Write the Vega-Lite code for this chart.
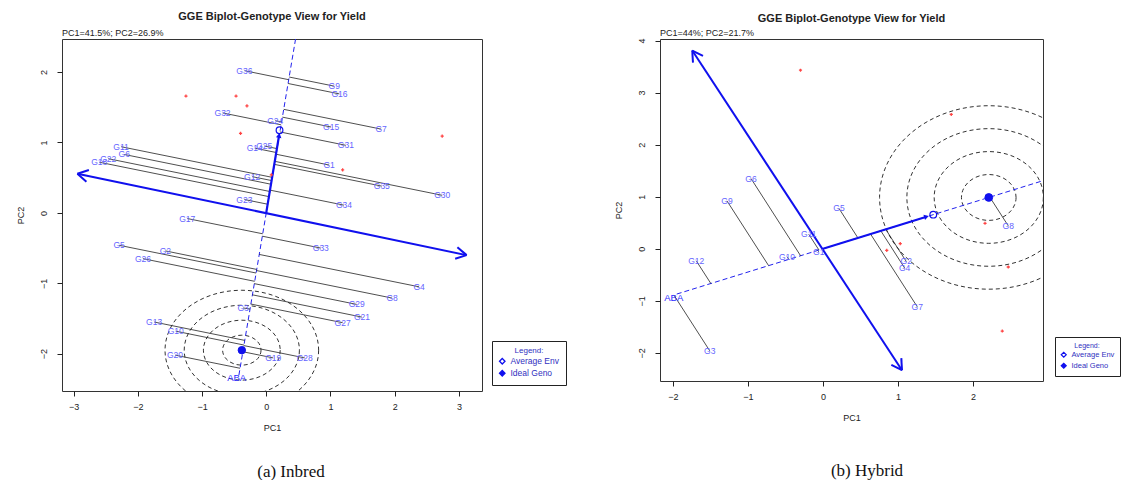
{
  "$schema": "https://vega.github.io/schema/vega-lite/v6.json",
  "background": "white",
  "padding": {"left": 15, "top": 10, "right": 0, "bottom": 0},
  "spacing": 46,
  "resolve": {"scale": {"size": "independent", "fill": "independent"}, "legend": {"size": "independent", "fill": "independent"}},
  "datasets": {
    "aGeno": [
      {"g": "G36", "x": -0.34, "y": 2.02, "px": 0.350, "py": 1.892},
      {"g": "G9", "x": 1.06, "y": 1.80, "px": 0.357, "py": 1.930},
      {"g": "G16", "x": 1.14, "y": 1.69, "px": 0.340, "py": 1.838},
      {"g": "G32", "x": -0.68, "y": 1.42, "px": 0.232, "py": 1.251},
      {"g": "G24", "x": 0.14, "y": 1.31, "px": 0.239, "py": 1.292},
      {"g": "G15", "x": 1.01, "y": 1.22, "px": 0.252, "py": 1.360},
      {"g": "G7", "x": 1.79, "y": 1.19, "px": 0.272, "py": 1.471},
      {"g": "G31", "x": 1.24, "y": 0.96, "px": 0.213, "py": 1.150},
      {"g": "G11", "x": -2.26, "y": 0.94, "px": 0.093, "py": 0.505},
      {"g": "G6", "x": -2.21, "y": 0.83, "px": 0.075, "py": 0.407},
      {"g": "G22", "x": -2.46, "y": 0.77, "px": 0.056, "py": 0.304},
      {"g": "G18", "x": -2.60, "y": 0.72, "px": 0.043, "py": 0.231},
      {"g": "G14", "x": -0.18, "y": 0.92, "px": 0.159, "py": 0.857},
      {"g": "G25", "x": -0.03, "y": 0.95, "px": 0.169, "py": 0.913},
      {"g": "G1", "x": 0.98, "y": 0.68, "px": 0.154, "py": 0.833},
      {"g": "G35", "x": 1.80, "y": 0.38, "px": 0.128, "py": 0.689},
      {"g": "G30", "x": 2.74, "y": 0.25, "px": 0.135, "py": 0.732},
      {"g": "G12", "x": -0.22, "y": 0.515, "px": 0.085, "py": 0.459},
      {"g": "G23", "x": -0.34, "y": 0.19, "px": 0.023, "py": 0.123},
      {"g": "G34", "x": 1.21, "y": 0.11, "px": 0.060, "py": 0.323},
      {"g": "G17", "x": -1.23, "y": -0.08, "px": -0.055, "py": -0.297},
      {"g": "G33", "x": 0.85, "y": -0.50, "px": -0.061, "py": -0.331},
      {"g": "G5", "x": -2.29, "y": -0.46, "px": -0.158, "py": -0.854},
      {"g": "G2", "x": -1.57, "y": -0.54, "px": -0.149, "py": -0.803},
      {"g": "G26", "x": -1.92, "y": -0.65, "px": -0.180, "py": -0.972},
      {"g": "G4", "x": 2.38, "y": -1.05, "px": -0.109, "py": -0.590},
      {"g": "G8", "x": 1.96, "y": -1.21, "px": -0.152, "py": -0.819},
      {"g": "G29", "x": 1.41, "y": -1.30, "px": -0.186, "py": -1.005},
      {"g": "G21", "x": 1.49, "y": -1.48, "px": -0.215, "py": -1.164},
      {"g": "G27", "x": 1.19, "y": -1.56, "px": -0.240, "py": -1.295},
      {"g": "G3", "x": -0.36, "y": -1.35, "px": -0.253, "py": -1.366},
      {"g": "G13", "x": -1.745, "y": -1.55, "px": -0.335, "py": -1.811},
      {"g": "G10", "x": -1.41, "y": -1.68, "px": -0.347, "py": -1.877},
      {"g": "G20", "x": -1.42, "y": -2.02, "px": -0.408, "py": -2.207},
      {"g": "G19", "x": 0.11, "y": -2.06, "px": -0.365, "py": -1.972},
      {"g": "G28", "x": 0.60, "y": -2.06, "px": -0.349, "py": -1.885}
    ],
    "aEnv": [
      {"x": -1.25, "y": 1.66}, {"x": -0.47, "y": 1.66}, {"x": -0.30, "y": 1.52},
      {"x": -0.40, "y": 1.13}, {"x": 2.74, "y": 1.09}, {"x": 1.19, "y": 0.61}, {"x": 0.08, "y": 0.54}
    ],
    "aArrow": [
      {"x": -2.94, "y": 0.557, "x2": 3.12, "y2": -0.60},
      {"x": -2.94, "y": 0.557, "x2": -2.80, "y2": 0.443},
      {"x": -2.94, "y": 0.557, "x2": -2.761, "y2": 0.610},
      {"x": 3.12, "y": -0.60, "x2": 2.977, "y2": -0.487},
      {"x": 3.12, "y": -0.60, "x2": 2.942, "y2": -0.652}
    ],
    "aAtc": [{"x": 0, "y": 0, "x2": 0.2, "y2": 1.1}],
    "aAtcDash": [{"x": 0.457, "y": 2.47, "x2": -0.43, "y2": -2.33}],
    "aHead": [{"x": 0.2, "y": 1.1}],
    "aAE": [{"x": 0.207, "y": 1.173, "kind": "Average Env"}],
    "aIG": [{"x": -0.38, "y": -1.95, "kind": "Ideal Geno"}],
    "aRings": [
      {"x": -0.38, "y": -1.95, "ring": 1}, {"x": -0.38, "y": -1.95, "ring": 2},
      {"x": -0.38, "y": -1.95, "ring": 3}, {"x": -0.38, "y": -1.95, "ring": 4}
    ],
    "aLab": [{"x": -0.46, "y": -2.34, "t": "ABA"}],
    "aPC": [{"x": -3.18, "y": 2.47, "t": "PC1=41.5%; PC2=26.9%"}],
    "bGeno": [
      {"g": "G6", "x": -0.96, "y": 1.35, "px": -0.299, "py": -0.133},
      {"g": "G9", "x": -1.28, "y": 0.92, "px": -0.725, "py": -0.324},
      {"g": "G12", "x": -1.69, "y": -0.23, "px": -1.495, "py": -0.667},
      {"g": "G3", "x": -1.51, "y": -1.96, "px": -1.989, "py": -0.887},
      {"g": "G10", "x": -0.48, "y": -0.15, "px": -0.456, "py": -0.204},
      {"g": "G11", "x": -0.19, "y": 0.28, "px": -0.054, "py": -0.024},
      {"g": "G1", "x": -0.057, "y": -0.058, "px": -0.069, "py": -0.031},
      {"g": "G5", "x": 0.213, "y": 0.775, "px": 0.466, "py": 0.208},
      {"g": "G2", "x": 1.11, "y": -0.244, "px": 0.837, "py": 0.373},
      {"g": "G4", "x": 1.089, "y": -0.372, "px": 0.771, "py": 0.344},
      {"g": "G7", "x": 1.257, "y": -1.115, "px": 0.634, "py": 0.283},
      {"g": "G8", "x": 2.47, "y": 0.44, "px": 2.224, "py": 0.992}
    ],
    "bEnv": [
      {"x": -0.30, "y": 3.43}, {"x": 1.71, "y": 2.58}, {"x": 2.16, "y": 0.49}, {"x": 0.85, "y": -0.03},
      {"x": 1.03, "y": 0.10}, {"x": 2.47, "y": -0.35}, {"x": 2.39, "y": -1.58}
    ],
    "bArrow": [
      {"x": -1.743, "y": 3.808, "x2": 1.053, "y2": -2.333},
      {"x": -1.743, "y": 3.808, "x2": -1.733, "y2": 3.577},
      {"x": -1.743, "y": 3.808, "x2": -1.60, "y2": 3.704},
      {"x": 1.053, "y": -2.333, "x2": 1.044, "y2": -2.10},
      {"x": 1.053, "y": -2.333, "x2": 0.911, "y2": -2.229}
    ],
    "bAtc": [{"x": 0, "y": 0, "x2": 1.38, "y2": 0.615}],
    "bAtcDash": [{"x": -1.95, "y": -0.87, "x2": 2.933, "y2": 1.308}],
    "bHead": [{"x": 1.38, "y": 0.615}],
    "bAE": [{"x": 1.47, "y": 0.656, "kind": "Average Env"}],
    "bIG": [{"x": 2.21, "y": 0.986, "kind": "Ideal Geno"}],
    "bRings": [
      {"x": 2.21, "y": 0.986, "ring": 1}, {"x": 2.21, "y": 0.986, "ring": 2},
      {"x": 2.21, "y": 0.986, "ring": 3}, {"x": 2.21, "y": 0.986, "ring": 4}
    ],
    "bLab": [{"x": -1.99, "y": -0.95, "t": "ABA"}],
    "bPC": [{"x": -2.173, "y": 4.03, "t": "PC1=44%; PC2=21.7%"}]
  },
  "hconcat": [
    {
      "title": {"text": "(a) Inbred", "orient": "bottom", "anchor": "middle", "font": "Liberation Serif", "fontSize": 17, "fontWeight": "normal", "color": "#111", "offset": 31},
      "vconcat": [
        {
          "width": 420,
          "height": 352,
          "title": {"text": "GGE Biplot-Genotype View for Yield", "font": "Liberation Sans", "fontSize": 11, "fontWeight": "bold", "anchor": "middle", "offset": 7, "color": "#222"},
          "encoding": {
            "x": {"field": "x", "type": "quantitative", "scale": {"domain": [-3.18, 3.36], "nice": false, "zero": false}, "axis": {"title": "PC1", "values": [-3, -2, -1, 0, 1, 2, 3], "format": "d"}},
            "y": {"field": "y", "type": "quantitative", "scale": {"domain": [-2.53, 2.47], "nice": false, "zero": false}, "axis": {"title": "PC2", "values": [-2, -1, 0, 1, 2], "format": "d"}}
          },
          "layer": [
            {
              "data": {"name": "aRings"},
              "mark": {"type": "point", "shape": "M 1 0 C 1 0.4308 0.5523 0.78 0 0.78 C -0.5523 0.78 -1 0.4308 -1 0 C -1 -0.4308 -0.5523 -0.78 0 -0.78 C 0.5523 -0.78 1 -0.4308 1 0 Z", "filled": false, "stroke": "#333", "strokeWidth": 1, "strokeDash": [4, 3], "opacity": 1, "clip": true},
              "encoding": {"size": {"field": "ring", "type": "quantitative", "scale": {"type": "pow", "exponent": 2, "domain": [0, 4], "range": [0, 23593]}, "legend": null}}
            },
            {
              "data": {"name": "aAtcDash"},
              "mark": {"type": "rule", "color": "#2222ee", "strokeWidth": 1, "strokeDash": [5, 3]},
              "encoding": {"x2": {"field": "x2"}, "y2": {"field": "y2"}}
            },
            {
              "data": {"name": "aGeno"},
              "mark": {"type": "rule", "color": "#222", "strokeWidth": 0.8},
              "encoding": {"x2": {"field": "px"}, "y2": {"field": "py"}}
            },
            {
              "data": {"name": "aArrow"},
              "mark": {"type": "rule", "color": "#1010ee", "strokeWidth": 2},
              "encoding": {"x2": {"field": "x2"}, "y2": {"field": "y2"}}
            },
            {
              "data": {"name": "aAtc"},
              "mark": {"type": "rule", "color": "#1010ee", "strokeWidth": 2.2},
              "encoding": {"x2": {"field": "x2"}, "y2": {"field": "y2"}}
            },
            {
              "data": {"name": "aHead"},
              "mark": {"type": "point", "shape": "triangle-up", "filled": true, "color": "#1010ee", "size": 30, "angle": 9, "opacity": 1}
            },
            {
              "data": {"name": "aEnv"},
              "mark": {"type": "point", "shape": "cross", "filled": true, "color": "#ff4444", "size": 10, "opacity": 1}
            },
            {
              "data": {"name": "aGeno"},
              "mark": {"type": "text", "font": "Liberation Sans", "fontSize": 8.5, "color": "#6464ff"},
              "encoding": {"text": {"field": "g"}}
            },
            {
              "data": {"name": "aLab"},
              "mark": {"type": "text", "font": "Liberation Sans", "fontSize": 9.5, "color": "#2a2aff"},
              "encoding": {"text": {"field": "t"}}
            },
            {
              "data": {"name": "aPC"},
              "mark": {"type": "text", "font": "Liberation Sans", "fontSize": 9, "color": "#222", "align": "left", "baseline": "bottom", "dy": -1},
              "encoding": {"text": {"field": "t"}}
            },
            {
              "data": {"name": "aAE"},
              "mark": {"type": "point", "shape": "circle", "filled": true, "stroke": "#1010ee", "strokeWidth": 1.2, "size": 45, "opacity": 1},
              "encoding": {"fill": {"field": "kind", "type": "nominal", "scale": {"domain": ["Average Env", "Ideal Geno"], "range": ["transparent", "#1010ee"]},
                "legend": {"title": "Legend:", "orient": "none", "legendX": 430, "legendY": 302, "strokeColor": "#222", "padding": 6, "titleFontSize": 8, "titleFontWeight": "normal", "titleFont": "Liberation Sans", "titleColor": "#3030c0", "titleAnchor": "middle", "titlePadding": 2, "labelFont": "Liberation Sans", "labelFontSize": 8.5, "labelColor": "#3030c0", "symbolType": "diamond", "symbolSize": 30, "symbolStrokeColor": "#1010ee", "symbolStrokeWidth": 1.3, "rowPadding": 0, "labelOffset": 4}}}
            },
            {
              "data": {"name": "aIG"},
              "mark": {"type": "point", "shape": "circle", "filled": true, "stroke": "#1010ee", "strokeWidth": 1, "size": 55, "opacity": 1},
              "encoding": {"fill": {"field": "kind", "type": "nominal", "scale": {"domain": ["Average Env", "Ideal Geno"], "range": ["transparent", "#1010ee"]},
                "legend": {"title": "Legend:", "orient": "none", "legendX": 430, "legendY": 302, "strokeColor": "#222", "padding": 6, "titleFontSize": 8, "titleFontWeight": "normal", "titleFont": "Liberation Sans", "titleColor": "#3030c0", "titleAnchor": "middle", "titlePadding": 2, "labelFont": "Liberation Sans", "labelFontSize": 8.5, "labelColor": "#3030c0", "symbolType": "diamond", "symbolSize": 30, "symbolStrokeColor": "#1010ee", "symbolStrokeWidth": 1.3, "rowPadding": 0, "labelOffset": 4}}}
            }
          ]
        }
      ]
    },
    {
      "title": {"text": "(b) Hybrid", "orient": "bottom", "anchor": "middle", "font": "Liberation Serif", "fontSize": 17, "fontWeight": "normal", "color": "#111", "offset": 40},
      "vconcat": [
        {
          "width": 383,
          "height": 342,
          "title": {"text": "GGE Biplot-Genotype View for Yield", "font": "Liberation Sans", "fontSize": 11, "fontWeight": "bold", "anchor": "middle", "offset": 5, "color": "#222"},
          "encoding": {
            "x": {"field": "x", "type": "quantitative", "scale": {"domain": [-2.173, 2.933], "nice": false, "zero": false}, "axis": {"title": "PC1", "values": [-2, -1, 0, 1, 2], "format": "d"}},
            "y": {"field": "y", "type": "quantitative", "scale": {"domain": [-2.54, 4.03], "nice": false, "zero": false}, "axis": {"title": "PC2", "values": [-2, -1, 0, 1, 2, 3, 4], "format": "d"}}
          },
          "layer": [
            {
              "data": {"name": "bRings"},
              "mark": {"type": "point", "shape": "M 1 0 C 1 0.464 0.5523 0.84 0 0.84 C -0.5523 0.84 -1 0.464 -1 0 C -1 -0.464 -0.5523 -0.84 0 -0.84 C 0.5523 -0.84 1 -0.464 1 0 Z", "filled": false, "stroke": "#333", "strokeWidth": 1, "strokeDash": [4, 3], "opacity": 1, "clip": true},
              "encoding": {"size": {"field": "ring", "type": "quantitative", "scale": {"type": "pow", "exponent": 2, "domain": [0, 4], "range": [0, 47698]}, "legend": null}}
            },
            {
              "data": {"name": "bAtcDash"},
              "mark": {"type": "rule", "color": "#2222ee", "strokeWidth": 1, "strokeDash": [5, 3]},
              "encoding": {"x2": {"field": "x2"}, "y2": {"field": "y2"}}
            },
            {
              "data": {"name": "bGeno"},
              "mark": {"type": "rule", "color": "#222", "strokeWidth": 0.8},
              "encoding": {"x2": {"field": "px"}, "y2": {"field": "py"}}
            },
            {
              "data": {"name": "bArrow"},
              "mark": {"type": "rule", "color": "#1010ee", "strokeWidth": 2},
              "encoding": {"x2": {"field": "x2"}, "y2": {"field": "y2"}}
            },
            {
              "data": {"name": "bAtc"},
              "mark": {"type": "rule", "color": "#1010ee", "strokeWidth": 2.2},
              "encoding": {"x2": {"field": "x2"}, "y2": {"field": "y2"}}
            },
            {
              "data": {"name": "bHead"},
              "mark": {"type": "point", "shape": "triangle-up", "filled": true, "color": "#1010ee", "size": 30, "angle": 73, "opacity": 1}
            },
            {
              "data": {"name": "bEnv"},
              "mark": {"type": "point", "shape": "cross", "filled": true, "color": "#ff4444", "size": 10, "opacity": 1}
            },
            {
              "data": {"name": "bGeno"},
              "mark": {"type": "text", "font": "Liberation Sans", "fontSize": 8.5, "color": "#6464ff"},
              "encoding": {"text": {"field": "g"}}
            },
            {
              "data": {"name": "bLab"},
              "mark": {"type": "text", "font": "Liberation Sans", "fontSize": 9.5, "color": "#2a2aff"},
              "encoding": {"text": {"field": "t"}}
            },
            {
              "data": {"name": "bPC"},
              "mark": {"type": "text", "font": "Liberation Sans", "fontSize": 9, "color": "#222", "align": "left", "baseline": "bottom", "dy": -1},
              "encoding": {"text": {"field": "t"}}
            },
            {
              "data": {"name": "bAE"},
              "mark": {"type": "point", "shape": "circle", "filled": true, "stroke": "#1010ee", "strokeWidth": 1.2, "size": 45, "opacity": 1},
              "encoding": {"fill": {"field": "kind", "type": "nominal", "scale": {"domain": ["Average Env", "Ideal Geno"], "range": ["transparent", "#1010ee"]},
                "legend": {"title": "Legend:", "orient": "none", "legendX": 395, "legendY": 298, "strokeColor": "#222", "padding": 5, "titleFontSize": 7, "titleFontWeight": "normal", "titleFont": "Liberation Sans", "titleColor": "#3030c0", "titleAnchor": "middle", "titlePadding": 2, "labelFont": "Liberation Sans", "labelFontSize": 7.5, "labelColor": "#3030c0", "symbolType": "diamond", "symbolSize": 25, "symbolStrokeColor": "#1010ee", "symbolStrokeWidth": 1.2, "rowPadding": 0, "labelOffset": 4}}}
            },
            {
              "data": {"name": "bIG"},
              "mark": {"type": "point", "shape": "circle", "filled": true, "stroke": "#1010ee", "strokeWidth": 1, "size": 60, "opacity": 1},
              "encoding": {"fill": {"field": "kind", "type": "nominal", "scale": {"domain": ["Average Env", "Ideal Geno"], "range": ["transparent", "#1010ee"]},
                "legend": {"title": "Legend:", "orient": "none", "legendX": 395, "legendY": 298, "strokeColor": "#222", "padding": 5, "titleFontSize": 7, "titleFontWeight": "normal", "titleFont": "Liberation Sans", "titleColor": "#3030c0", "titleAnchor": "middle", "titlePadding": 2, "labelFont": "Liberation Sans", "labelFontSize": 7.5, "labelColor": "#3030c0", "symbolType": "diamond", "symbolSize": 25, "symbolStrokeColor": "#1010ee", "symbolStrokeWidth": 1.2, "rowPadding": 0, "labelOffset": 4}}}
            }
          ]
        }
      ]
    }
  ],
  "config": {
    "view": {"stroke": "#333", "strokeWidth": 1},
    "axis": {"grid": false, "domain": false, "tickColor": "#222", "tickSize": 5, "labelFont": "Liberation Sans", "labelFontSize": 9, "labelColor": "#222", "titleFont": "Liberation Sans", "titleFontSize": 9, "titleFontWeight": "normal", "titleColor": "#222", "labelFlush": false},
    "axisX": {"labelPadding": 6, "titlePadding": 12},
    "axisY": {"labelAngle": -90, "labelAlign": "center", "labelBaseline": "bottom", "labelPadding": 9, "titlePadding": 14}
  }
}
